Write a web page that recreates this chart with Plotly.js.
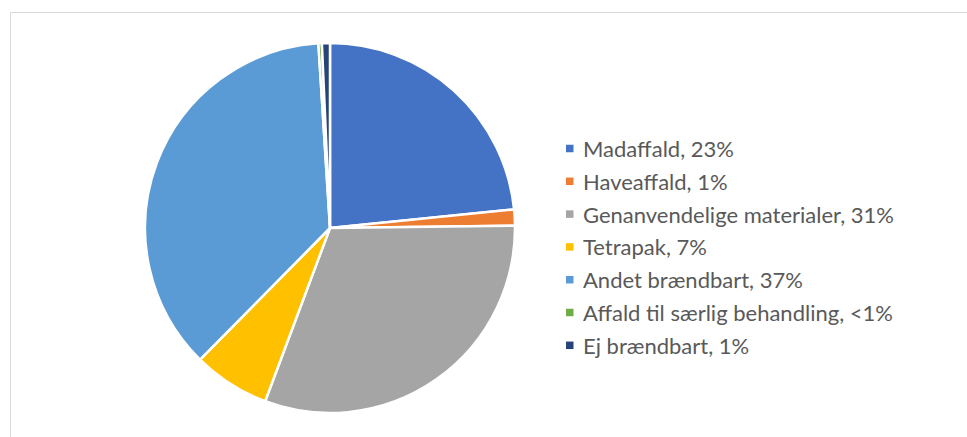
<!DOCTYPE html>
<html>
<head>
<meta charset="utf-8">
<script src="https://cdn.plot.ly/plotly-3.0.1.min.js"></script>
<style>html,body{margin:0;padding:0;background:#fff;}#chart{width:967px;height:437px;}</style>
</head>
<body>
<div id="chart"></div>
<script>
// Data
const categories = ["Madaffald", "Haveaffald", "Genanvendelige materialer", "Tetrapak", "Andet brændbart", "Affald til særlig behandling", "Ej brændbart"];
const values = [23.4, 1.4, 30.9, 6.7, 36.6, 0.3, 0.7];
const percentLabels = ["23%", "1%", "31%", "7%", "37%", "<1%", "1%"];
const colors = ["#4472C4", "#ED7D31", "#A5A5A5", "#FFC000", "#5B9BD5", "#70AD47", "#264478"];

const W = 967, H = 437;
const cx = 330, cy = 228, r = 185;

const legendLabels = categories.map((c, i) => c + ", " + percentLabels[i]);

const trace = {
  type: "pie",
  labels: legendLabels,
  values: values,
  sort: false,
  direction: "clockwise",
  rotation: 0,
  textinfo: "none",
  hoverinfo: "label",
  marker: { colors: colors, line: { color: "#ffffff", width: 2.5 } },
  domain: { x: [(cx - r) / W, (cx + r) / W], y: [1 - (cy + r) / H, 1 - (cy - r) / H] },
  showlegend: false
};

const annotations = [];
const shapes = [];
// chart area border
shapes.push({ type: "rect", xref: "paper", yref: "paper", x0: 10.5 / W, x1: 1.05, y0: -0.05, y1: 1 - 12.5 / H, line: { color: "#D9D9D9", width: 1 }, fillcolor: "rgba(0,0,0,0)", layer: "below" });

const legX = 566, legY0 = 148.5, legStep = 32.8, sq = 7.5;
legendLabels.forEach((lab, i) => {
  const y = legY0 + i * legStep;
  shapes.push({ type: "rect", xref: "paper", yref: "paper",
    x0: legX / W, x1: (legX + sq) / W, y0: 1 - (y + sq / 2) / H, y1: 1 - (y - sq / 2) / H,
    line: { width: 0 }, fillcolor: colors[i] });
  annotations.push({ xref: "paper", yref: "paper", x: 581 / W, y: 1 - y / H, xanchor: "left", yanchor: "middle",
    text: lab, showarrow: false, font: { family: "Lato, sans-serif", size: 22, color: "#595959" } });
});

const layout = {
  width: W, height: H,
  margin: { l: 0, r: 0, t: 0, b: 0 },
  paper_bgcolor: "#ffffff",
  plot_bgcolor: "#ffffff",
  showlegend: false,
  shapes: shapes,
  annotations: annotations
};

Plotly.newPlot("chart", [trace], layout, { staticPlot: true, displayModeBar: false });
</script>
</body>
</html>
